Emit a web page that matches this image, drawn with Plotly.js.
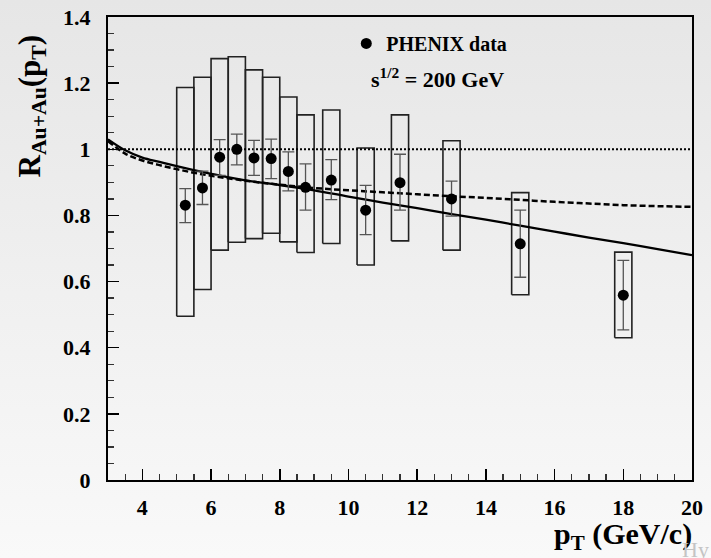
<!DOCTYPE html>
<html>
<head>
<meta charset="utf-8">
<script src="https://cdn.plot.ly/plotly-3.0.1.min.js"></script>
<style>
  html, body { margin: 0; padding: 0; }
  body { background: linear-gradient(to bottom, #e6e6e6, #f9f9f9); width: 711px; height: 558px; overflow: hidden; }
  #chart { width: 711px; height: 558px; }
  #chart text { font-family: 'Liberation Serif', 'Times New Roman', serif !important; }
</style>
</head>
<body>
<div id="chart"></div>
<script>
// ---- data ----
const pT      = [5.25, 5.75, 6.25, 6.75, 7.25, 7.75, 8.25, 8.75, 9.5, 10.5, 11.5, 13, 15, 18];
const R_AA    = [0.831, 0.883, 0.976, 1.000, 0.974, 0.972, 0.933, 0.885, 0.907, 0.816, 0.899, 0.850, 0.714, 0.559];
const statHi  = [0.881, 0.934, 1.029, 1.046, 1.027, 1.031, 0.992, 0.956, 0.969, 0.891, 0.985, 0.904, 0.816, 0.664];
const statLo  = [0.778, 0.833, 0.921, 0.953, 0.921, 0.911, 0.874, 0.816, 0.848, 0.742, 0.816, 0.798, 0.613, 0.454];
const sysHi   = [1.187, 1.218, 1.274, 1.280, 1.240, 1.218, 1.158, 1.104, 1.119, 1.004, 1.104, 1.026, 0.869, 0.689];
const sysLo   = [0.495, 0.576, 0.695, 0.719, 0.730, 0.746, 0.720, 0.688, 0.715, 0.650, 0.723, 0.695, 0.560, 0.430];

const curvePt     = [3.0, 3.5, 4.0, 4.5, 5.0, 5.5, 6.0, 7.0, 8.0, 9.0, 10.0, 11.0, 12.0, 13.0, 14.0, 15.0, 16.0, 17.0, 18.0, 19.0, 20.0];
const solidCurve  = [1.030, 0.997, 0.975, 0.962, 0.949, 0.937, 0.926, 0.906, 0.892, 0.876, 0.857, 0.839, 0.822, 0.804, 0.787, 0.769, 0.751, 0.733, 0.716, 0.698, 0.680];
const dashedCurve = [1.025, 0.987, 0.966, 0.952, 0.940, 0.929, 0.920, 0.905, 0.893, 0.883, 0.876, 0.870, 0.864, 0.858, 0.853, 0.847, 0.841, 0.836, 0.831, 0.828, 0.826];

const refX = [3, 20];
const refY = [1, 1];

const xTickVals = [4, 6, 8, 10, 12, 14, 16, 18, 20];
const yTickVals = [0, 0.2, 0.4, 0.6, 0.8, 1, 1.2, 1.4];

const legendLabel = 'PHENIX data';
const energyLabel = 's<sup>1/2</sup> = 200 GeV';

// ---- styling constants ----
const BOX_HALF = 0.25;
const FONT = 'Liberation Serif';

// build systematic-uncertainty boxes as one outlined line trace
const boxX = [], boxY = [];
pT.forEach((p, i) => {
  boxX.push(p - BOX_HALF, p + BOX_HALF, p + BOX_HALF, p - BOX_HALF, p - BOX_HALF, null);
  boxY.push(sysLo[i], sysLo[i], sysHi[i], sysHi[i], sysLo[i], null);
});

const traces = [
  { x: boxX, y: boxY, mode: 'lines', line: { color: '#222', width: 1.6 }, showlegend: false, hoverinfo: 'skip' },
  { x: refX, y: refY, mode: 'lines', line: { color: '#000', width: 2, dash: '2px,2px' }, showlegend: false, hoverinfo: 'skip' },
  { x: curvePt, y: dashedCurve, mode: 'lines', line: { color: '#000', width: 2.5, dash: '6px,3px', shape: 'spline' }, showlegend: false },
  { x: curvePt, y: solidCurve, mode: 'lines', line: { color: '#000', width: 2.3, shape: 'spline' }, showlegend: false },
  {
    x: pT, y: R_AA, mode: 'markers', name: legendLabel,
    marker: { color: '#000', size: 11 },
    error_y: {
      type: 'data', symmetric: false,
      array: statHi.map((v, i) => v - R_AA[i]),
      arrayminus: R_AA.map((v, i) => v - statLo[i]),
      color: '#555', thickness: 1.3, width: 6
    },
    showlegend: true
  }
];

const layout = {
  width: 711, height: 558,
  margin: { l: 108, r: 19, t: 17, b: 78 },
  paper_bgcolor: 'rgba(0,0,0,0)',
  plot_bgcolor: 'rgba(0,0,0,0)',
  font: { family: FONT, color: '#000', weight: 'bold' },
  showlegend: true,
  legend: {
    x: 0.408, y: 0.985, xanchor: 'left', yanchor: 'top',
    bgcolor: 'rgba(0,0,0,0)', borderwidth: 0,
    font: { family: FONT, size: 20, color: '#000', weight: 'bold' },
    itemwidth: 30
  },
  xaxis: {
    range: [3, 20], tickvals: xTickVals, ticks: 'inside', ticklen: 11, tickwidth: 1.5, tickcolor: '#000',
    minor: { dtick: 0.5, tick0: 0, ticks: 'inside', ticklen: 6, tickwidth: 1.3, tickcolor: '#333' },
    showline: true, linecolor: '#000', linewidth: 2, mirror: true,
    showgrid: false, zeroline: false,
    tickfont: { family: FONT, size: 22, color: '#000', weight: 'bold' }, ticklabelstandoff: 7
  },
  yaxis: {
    range: [0, 1.4], tickvals: yTickVals, ticks: 'inside', ticklen: 11, tickwidth: 1.5, tickcolor: '#000',
    minor: { dtick: 0.05, tick0: 0, ticks: 'inside', ticklen: 6, tickwidth: 1.3, tickcolor: '#333' },
    showline: true, linecolor: '#000', linewidth: 2, mirror: true,
    showgrid: false, zeroline: false,
    tickfont: { family: FONT, size: 22, color: '#000', weight: 'bold' }, ticklabelstandoff: 11
  },
  annotations: [
    {
      xref: 'paper', yref: 'paper', x: -0.13, y: 0.807, xanchor: 'center', yanchor: 'middle',
      textangle: -90, showarrow: false,
      text: 'R<sub>Au+Au</sub>(p<sub>T</sub>)',
      font: { family: FONT, size: 31, color: '#000', weight: 'bold' }
    },
    {
      xref: 'paper', yref: 'paper', x: 1.003, y: -0.121, xanchor: 'right', yanchor: 'middle',
      showarrow: false,
      text: 'p<sub>T</sub> (GeV/c)',
      font: { family: FONT, size: 30, color: '#000', weight: 'bold' }
    },
    {
      xref: 'paper', yref: 'paper', x: 0.447, y: 0.868, xanchor: 'left', yanchor: 'middle',
      showarrow: false,
      text: energyLabel,
      font: { family: FONT, size: 22, color: '#000', weight: 'bold' }
    },
    {
      xref: 'paper', yref: 'paper', x: 0.98, y: -0.118, xanchor: 'left', yanchor: 'top',
      showarrow: false,
      text: 'Hy',
      font: { family: FONT, size: 22, color: '#c4c4c4', weight: 'normal' }
    }
  ]
};

Plotly.newPlot('chart', traces, layout, { staticPlot: true, displayModeBar: false });
</script>
</body>
</html>
